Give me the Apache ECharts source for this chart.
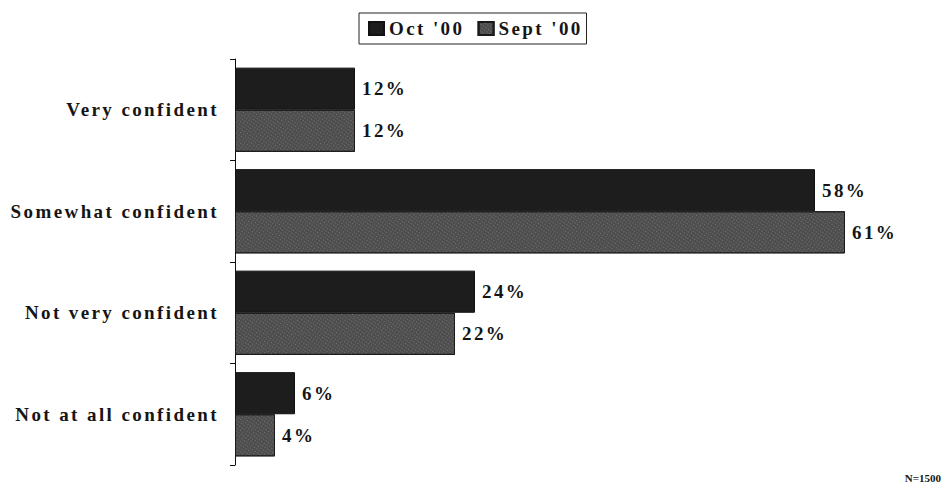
<!DOCTYPE html>
<html>
<head>
<meta charset="utf-8">
<script src="https://cdn.jsdelivr.net/npm/echarts@6/dist/echarts.min.js"></script>
<style>
  html, body { margin: 0; padding: 0; background: #fff; }
  #chart { width: 944px; height: 483px; }
  /* spaced-out serif lettering used throughout the chart */
  #chart text { letter-spacing: 2.4px; }
  #chart text[style*="11px"] { letter-spacing: 0; }
</style>
</head>
<body>
<div id="chart"></div>
<script>
// Confidence levels, top to bottom
const categories = ['Very confident', 'Somewhat confident', 'Not very confident', 'Not at all confident'];
// Percent of respondents per wave
const oct00 = [12, 58, 24, 6];
const sept00 = [12, 61, 22, 4];
const seriesNames = ["Oct '00", "Sept '00"];
const sampleNote = 'N=1500';

const FONT = "'Liberation Serif', 'Times New Roman', serif";
const INK = '#151515';

const chart = echarts.init(document.getElementById('chart'), null, { renderer: 'svg' });

const valueLabel = {
  show: true,
  position: 'right',
  distance: 7,
  formatter: '{c}%',
  fontFamily: FONT,
  fontSize: 19,
  fontWeight: 'bold',
  color: INK
};

chart.setOption({
  animation: false,
  backgroundColor: '#ffffff',
  title: {
    text: sampleNote,
    right: 3,
    top: 472,
    padding: 0,
    textStyle: { fontFamily: FONT, fontSize: 11, fontWeight: 'bold', color: INK }
  },
  legend: {
    data: seriesNames,
    left: 359,
    top: 13,
    orient: 'horizontal',
    icon: 'rect',
    padding: [6, 23, 6, 9],
    itemGap: 30,
    itemWidth: 15,
    itemHeight: 13,
    borderColor: '#222',
    borderWidth: 1,
    borderRadius: 0,
    textStyle: { fontFamily: FONT, fontSize: 19, fontWeight: 'bold', color: INK }
  },
  grid: { left: 235, top: 59, width: 700, height: 406 },
  xAxis: {
    type: 'value',
    min: 0,
    max: 70,
    show: false
  },
  yAxis: {
    type: 'category',
    data: categories,
    inverse: true,
    axisLine: { show: true, lineStyle: { color: '#111', width: 1 } },
    axisTick: { show: true, inside: false, length: 5, lineStyle: { color: '#111' } },
    axisLabel: {
      margin: 16,
      fontFamily: FONT,
      fontSize: 19,
      fontWeight: 'bold',
      color: INK
    },
    splitLine: { show: false }
  },
  series: [
    {
      name: seriesNames[0],
      type: 'bar',
      data: oct00,
      barGap: '0%',
      barCategoryGap: '17%',
      itemStyle: { color: '#1d1d1d', borderColor: '#111', borderWidth: 1 },
      label: valueLabel
    },
    {
      name: seriesNames[1],
      type: 'bar',
      data: sept00,
      barGap: '0%',
      barCategoryGap: '17%',
      itemStyle: {
        color: '#4e4e4e',
        borderColor: '#1a1a1a',
        borderWidth: 1,
        decal: {
          symbol: 'rect',
          symbolSize: 1,
          color: 'rgba(190,190,190,0.35)',
          dashArrayX: [1, 2],
          dashArrayY: [1, 2],
          rotation: 0.6
        }
      },
      label: valueLabel
    }
  ]
});
</script>
</body>
</html>
